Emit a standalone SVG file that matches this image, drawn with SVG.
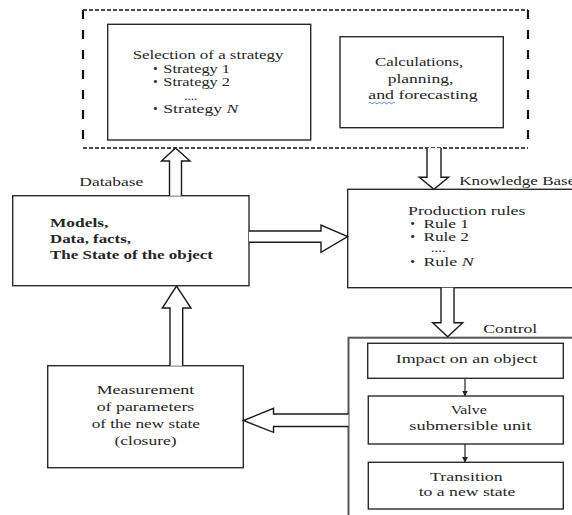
<svg xmlns="http://www.w3.org/2000/svg" width="572" height="515" viewBox="0 0 572 515">
  <style>
    .box { fill: #fff; stroke: #2a2a2a; stroke-width: 1.4; }
    .ctl { fill: none; stroke: #555; stroke-width: 2; }
    .blk { fill: #fff; stroke: #1a1a1a; stroke-width: 1.4; stroke-linejoin: miter; }
    .dsh-h { stroke: #111; stroke-width: 1.3; stroke-dasharray: 4 2; fill: none; }
    .dsh-v { stroke: #111; stroke-width: 2.2; stroke-dasharray: 9 11; fill: none; }
    .thin { stroke: #222; stroke-width: 1.2; fill: none; }
    text { font-family: "Liberation Serif", "Times New Roman", serif; font-size: 13.5px; fill: #262626; }
    .b { font-weight: bold; }
    .c { text-anchor: middle; }
  </style>
  <defs>
    <marker id="tip" markerWidth="6" markerHeight="6" refX="5" refY="3" orient="auto" markerUnits="userSpaceOnUse">
      <path d="M0,0 L6,3 L0,6 Z" fill="#222"/>
    </marker>
  </defs>

  <rect width="572" height="515" fill="#fff"/>

  <!-- dashed frame around the planning blocks -->
  <g id="planning-frame">
    <line class="dsh-h" x1="83" y1="10" x2="528" y2="10"/>
    <line class="dsh-h" x1="83" y1="148" x2="528" y2="148"/>
    <line class="dsh-v" x1="83" y1="10" x2="83" y2="148"/>
    <line class="dsh-v" x1="528" y1="10" x2="528" y2="148"/>
  </g>

  <g id="strategy">
    <rect class="box" x="107.7" y="24.3" width="203" height="115.7"/>
    <text x="132.7" y="58.5" textLength="150.7" lengthAdjust="spacingAndGlyphs">Selection of a strategy</text>
    <text x="153" y="73">•</text>
    <text x="163.3" y="73" textLength="66.7" lengthAdjust="spacingAndGlyphs">Strategy 1</text>
    <text x="153" y="86">•</text>
    <text x="163.3" y="86" textLength="66.7" lengthAdjust="spacingAndGlyphs">Strategy 2</text>
    <text x="184.3" y="99.5" textLength="13" lengthAdjust="spacingAndGlyphs">....</text>
    <text x="153" y="113.3">•</text>
    <text x="163.3" y="113.3" textLength="75" lengthAdjust="spacingAndGlyphs">Strategy <tspan font-style="italic">N</tspan></text>
  </g>

  <g id="calculations">
    <rect class="box" x="340" y="36.7" width="163.3" height="91"/>
    <text x="375" y="66" textLength="88.3" lengthAdjust="spacingAndGlyphs">Calculations,</text>
    <text x="387.7" y="82.5" textLength="65.6" lengthAdjust="spacingAndGlyphs">planning,</text>
    <text x="368.3" y="99" textLength="109.4" lengthAdjust="spacingAndGlyphs">and forecasting</text>
    <path d="M368.5,103 q1.2,-1.6 2.4,0 t2.4,0 t2.4,0 t2.4,0 t2.4,0 t2.4,0 t2.4,0 t2.4,0 t2.4,0 t2.4,0 t2.4,0" fill="none" stroke="#4a6cd4" stroke-width="0.9"/>
  </g>

  <g id="database">
    <text x="79.3" y="186" textLength="64" lengthAdjust="spacingAndGlyphs">Database</text>
    <rect class="box" x="12.7" y="195.7" width="236.3" height="90"/>
    <text class="b" x="50" y="226.7" textLength="58.3" lengthAdjust="spacingAndGlyphs">Models,</text>
    <text class="b" x="50" y="243.3" textLength="81" lengthAdjust="spacingAndGlyphs">Data, facts,</text>
    <text class="b" x="50" y="259.3" textLength="163" lengthAdjust="spacingAndGlyphs">The State of the object</text>
  </g>

  <g id="knowledge-base">
    <text x="459.3" y="185" textLength="116" lengthAdjust="spacingAndGlyphs">Knowledge Base</text>
    <rect class="box" x="347.7" y="189.3" width="240" height="98.4"/>
    <text x="408" y="214.5" textLength="117.5" lengthAdjust="spacingAndGlyphs">Production rules</text>
    <text x="410.3" y="227.5">•</text>
    <text x="423.4" y="227.5" textLength="45.6" lengthAdjust="spacingAndGlyphs">Rule 1</text>
    <text x="410.3" y="241">•</text>
    <text x="423.4" y="241" textLength="45.6" lengthAdjust="spacingAndGlyphs">Rule 2</text>
    <text x="430.7" y="251.7" textLength="15" lengthAdjust="spacingAndGlyphs">....</text>
    <text x="410.3" y="266">•</text>
    <text x="423.4" y="266" textLength="50.3" lengthAdjust="spacingAndGlyphs">Rule <tspan font-style="italic">N</tspan></text>
  </g>

  <g id="measurement">
    <rect class="box" x="47.7" y="365.7" width="195.6" height="102"/>
    <text class="c" x="145.5" y="394" textLength="97.7" lengthAdjust="spacingAndGlyphs">Measurement</text>
    <text class="c" x="145.5" y="411" textLength="97.7" lengthAdjust="spacingAndGlyphs">of parameters</text>
    <text class="c" x="145.8" y="428.3" textLength="108.3" lengthAdjust="spacingAndGlyphs">of the new state</text>
    <text class="c" x="145.5" y="445" textLength="62" lengthAdjust="spacingAndGlyphs">(closure)</text>
  </g>

  <g id="control">
    <text x="483.3" y="332.7" textLength="54" lengthAdjust="spacingAndGlyphs">Control</text>
    <rect class="ctl" x="348.5" y="337.7" width="240" height="190"/>
  </g>

  <g id="impact">
    <rect class="box" x="367.7" y="343.3" width="195.6" height="35"/>
    <text x="395.7" y="363.3" textLength="141.6" lengthAdjust="spacingAndGlyphs">Impact on an object</text>
  </g>

  <g id="valve">
    <rect class="box" x="368.3" y="396" width="195" height="48"/>
    <text x="450.7" y="414.3" textLength="36" lengthAdjust="spacingAndGlyphs">Valve</text>
    <text x="409.3" y="430" textLength="122" lengthAdjust="spacingAndGlyphs">submersible unit</text>
  </g>

  <g id="transition">
    <rect class="box" x="368.3" y="462.3" width="195" height="46.7"/>
    <text x="430" y="481" textLength="72.7" lengthAdjust="spacingAndGlyphs">Transition</text>
    <text x="418.7" y="495.7" textLength="96.6" lengthAdjust="spacingAndGlyphs">to a new state</text>
  </g>

  <g id="connectors">
    <!-- Database -> strategy selection -->
    <path class="blk" d="M169.5,195.7 V161 H161.5 L175.5,148 L190,161 H181.5 V195.7"/>
    <!-- planning frame -> knowledge base -->
    <path class="blk" d="M427,148 V177.3 H419.3 L434,189.3 L448.5,177.3 H441 V148"/>
    <!-- database -> knowledge base -->
    <path class="blk" d="M249,231 H321 V225 L347.7,236.7 L321,252.3 V242.3 H249"/>
    <!-- knowledge base -> control -->
    <path class="blk" d="M441,287.7 V322.7 H432.7 L447.7,336.7 L462.7,322.7 H454 V287.7"/>
    <!-- measurement -> database -->
    <path class="blk" d="M170,365.7 V308 H162.3 L176.5,286 L191,308 H182.7 V365.7"/>
    <!-- control -> measurement -->
    <path class="blk" d="M348.5,414 H273.5 V408.3 L243.5,420.5 L273.5,432.3 V426.5 H348.5"/>
    <!-- steps inside the control block -->
    <line class="thin" x1="465" y1="378.3" x2="465" y2="395.5" marker-end="url(#tip)"/>
    <line class="thin" x1="465" y1="444" x2="465" y2="461.8" marker-end="url(#tip)"/>
  </g>
</svg>
